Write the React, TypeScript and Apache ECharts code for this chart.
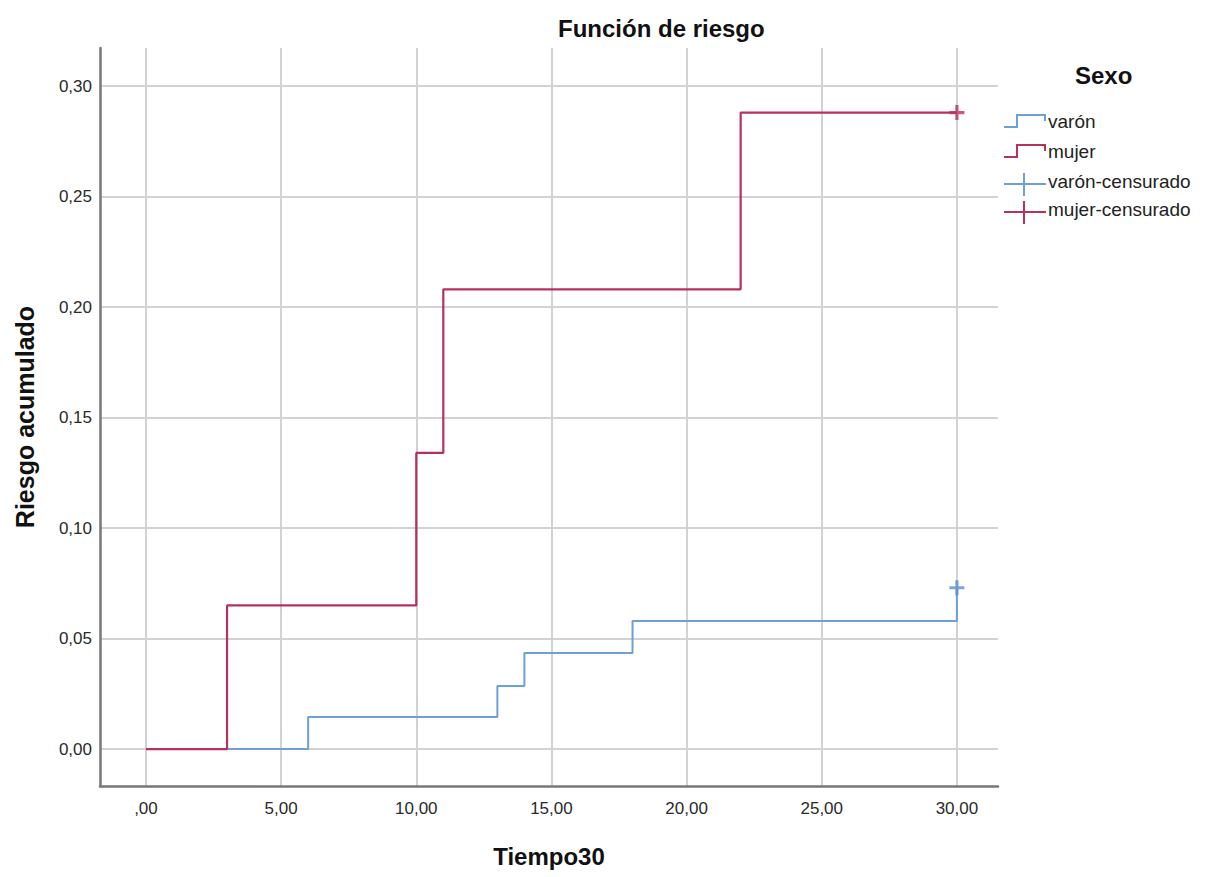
import React, { useEffect, useRef } from "react";
import * as echarts from "echarts";

const xTicks = [0, 5, 10, 15, 20, 25, 30];
const yTicks = [0, 0.05, 0.1, 0.15, 0.2, 0.25, 0.3];

const varonTimes = [0, 6, 13, 14, 18, 30];
const varonRisk = [0, 0.0145, 0.0285, 0.0435, 0.058, 0.073];
const mujerTimes = [0, 3, 10, 11, 22, 30];
const mujerRisk = [0, 0.065, 0.134, 0.208, 0.288, 0.288];

const varonCensTimes = [30];
const varonCensRisk = [0.073];
const mujerCensTimes = [30];
const mujerCensRisk = [0.288];

const legendNames = ["varón", "mujer", "varón-censurado", "mujer-censurado"];

const BLUE = "#6f9fd8";
const RED = "#b6325d";
const FONT = "'Liberation Sans', Arial, sans-serif";
const CROSS = "path://M5.5,0 L8.5,0 L8.5,14 L5.5,14 Z M0,5.5 L14,5.5 L14,8.5 L0,8.5 Z";

const zip = (a: number[], b: number[]) => a.map((v, i) => [v, b[i]]);

export default function App() {
  const ref = useRef<HTMLDivElement>(null);
  useEffect(() => {
    if (!ref.current) return;
    const chart = echarts.init(ref.current, undefined, { renderer: "svg" });

    const lx = 1004;
    const lt = 1048;
    const rows = [124, 154, 184, 212];
    const legendGraphics: any[] = [
      {
        type: "text",
        left: 1075,
        top: 63,
        style: { text: "Sexo", font: `bold 24px ${FONT}`, fill: "#111" },
      },
      {
        type: "polyline",
        shape: { points: [[lx, rows[0] + 3], [lx + 13, rows[0] + 3], [lx + 13, rows[0] - 9], [lx + 41, rows[0] - 9], [lx + 41, rows[0] - 3]] },
        style: { stroke: BLUE, lineWidth: 2, fill: "none" },
      },
      {
        type: "polyline",
        shape: { points: [[lx, rows[1] + 3], [lx + 13, rows[1] + 3], [lx + 13, rows[1] - 9], [lx + 41, rows[1] - 9], [lx + 41, rows[1] - 3]] },
        style: { stroke: RED, lineWidth: 2, fill: "none" },
      },
      { type: "line", shape: { x1: lx, y1: rows[2], x2: lx + 42, y2: rows[2] }, style: { stroke: BLUE, lineWidth: 2 } },
      { type: "line", shape: { x1: lx + 20, y1: rows[2] - 11, x2: lx + 20, y2: rows[2] + 12 }, style: { stroke: BLUE, lineWidth: 2 } },
      { type: "line", shape: { x1: lx, y1: rows[3], x2: lx + 42, y2: rows[3] }, style: { stroke: RED, lineWidth: 2 } },
      { type: "line", shape: { x1: lx + 20, y1: rows[3] - 11, x2: lx + 20, y2: rows[3] + 12 }, style: { stroke: RED, lineWidth: 2 } },
    ];
    legendNames.forEach((n, i) => {
      legendGraphics.push({
        type: "text",
        left: lt,
        top: rows[i] - 12,
        style: { text: n, font: `19px ${FONT}`, fill: "#222" },
      });
    });

    chart.setOption({
      animation: false,
      backgroundColor: "#fff",
      title: {
        text: "Función de riesgo",
        left: 553,
        top: 11,
        textStyle: { fontFamily: FONT, fontSize: 24, fontWeight: "bold", color: "#111" },
      },
      grid: { left: 100, right: 208, top: 48, bottom: 91, containLabel: false },
      xAxis: {
        type: "value",
        min: -1.7,
        max: 31.52,
        name: "Tiempo30",
        nameLocation: "middle",
        nameGap: 58,
        nameTextStyle: { fontFamily: FONT, fontSize: 24, fontWeight: "bold", color: "#111" },
        axisLine: { show: true, onZero: false, lineStyle: { color: "#777", width: 2.5 } },
        axisTick: { show: false, customValues: xTicks },
        axisLabel: {
          customValues: xTicks,
          margin: 14,
          fontFamily: FONT,
          fontSize: 17,
          color: "#2a2a2a",
          formatter: (v: number) => (v === 0 ? ",00" : v.toFixed(2).replace(".", ",")),
        },
        splitLine: { show: true, lineStyle: { color: "#d2d2d2", width: 2 } },
      },
      yAxis: {
        type: "value",
        min: -0.0167,
        max: 0.3172,
        name: "Riesgo acumulado",
        nameLocation: "middle",
        nameGap: 63,
        nameTextStyle: { fontFamily: FONT, fontSize: 25, fontWeight: "bold", color: "#111" },
        axisLine: { show: true, onZero: false, lineStyle: { color: "#777", width: 2.5 } },
        axisTick: { show: false, customValues: yTicks },
        axisLabel: {
          customValues: yTicks,
          margin: 8,
          fontFamily: FONT,
          fontSize: 17,
          color: "#2a2a2a",
          formatter: (v: number) => v.toFixed(2).replace(".", ","),
        },
        splitLine: { show: true, lineStyle: { color: "#d2d2d2", width: 2 } },
      },
      series: [
        {
          name: "varón",
          type: "line",
          step: "end",
          data: zip(varonTimes, varonRisk),
          symbol: "none",
          lineStyle: { color: BLUE, width: 2 },
          z: 3,
        },
        {
          name: "mujer",
          type: "line",
          step: "end",
          data: zip(mujerTimes, mujerRisk),
          symbol: "none",
          lineStyle: { color: RED, width: 2.2 },
          z: 4,
        },
        {
          name: "varón-censurado",
          type: "scatter",
          data: zip(varonCensTimes, varonCensRisk),
          symbol: CROSS,
          symbolSize: [15, 15],
          itemStyle: { color: "#5b8fd0" },
          z: 5,
        },
        {
          name: "mujer-censurado",
          type: "scatter",
          data: zip(mujerCensTimes, mujerCensRisk),
          symbol: CROSS,
          symbolSize: [15, 15],
          itemStyle: { color: RED },
          z: 5,
        },
      ],
      graphic: legendGraphics,
    });
    return () => chart.dispose();
  }, []);
  return <div ref={ref} style={{ position: "fixed", left: 0, top: 0, width: 1206, height: 877 }} />;
}
